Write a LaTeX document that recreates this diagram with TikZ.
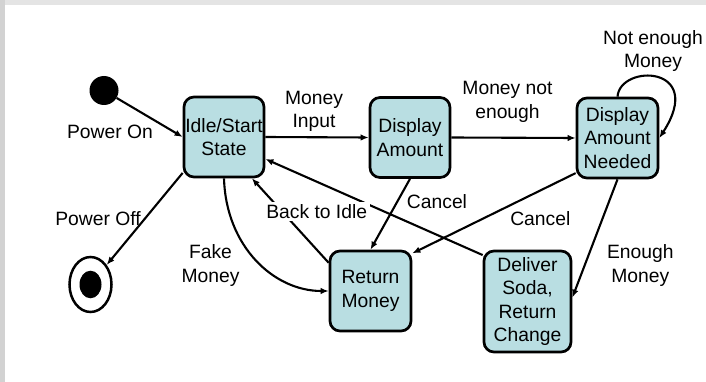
\documentclass[tikz,border=0pt]{standalone}
\usepackage{fontspec}
\setmainfont{Liberation Sans}
\usetikzlibrary{arrows.meta,shapes.geometric}
\definecolor{statefill}{HTML}{B9DEE2}
\definecolor{bandtop}{HTML}{E4E4E4}
\definecolor{bandleft}{HTML}{D2D2D2}
\tikzset{
  txt/.style={font=\fontsize{19.3}{23.5}\selectfont, align=center},
  statebox/.style={txt, draw=black, fill=statefill, line width=2.7pt,
    rounded corners=10pt, inner sep=0pt},
  trans/.style={line width=2.1pt, -{Latex[length=8pt,width=6.5pt]}},
  lbl/.style={txt, inner sep=2pt},
  lblw/.style={txt, fill=white, inner sep=2.5pt},
}
\begin{document}
\begin{tikzpicture}[x=1pt,y=-1pt]
  % canvas and frame bands
  \useasboundingbox (0,0) rectangle (706,382);
  \fill[white] (0,0) rectangle (706,382);
  \fill[bandtop] (0,0) rectangle (706,5);
  \fill[bandleft] (0,0) rectangle (5,382);

  % pseudo-states
  \node[circle, fill=black, minimum size=29pt, inner sep=0pt] (init) at (104,90.5) {};
  \node[ellipse, draw=black, line width=2.5pt, minimum width=42pt, minimum height=55pt, inner sep=0pt] (final) at (90.5,284.5) {};
  \fill[black] (final.center) ellipse [x radius=11pt, y radius=13.8pt];

  % states
  \node[statebox, minimum width=80pt, minimum height=80pt] (idle) at (224,137) {Idle/Start\\State};
  \node[statebox, minimum width=80pt, minimum height=80pt] (disp) at (410,137.5) {Display\\Amount};
  \node[statebox, minimum width=81pt, minimum height=80pt] (need) at (617.5,138) {Display\\Amount\\Needed};
  \node[statebox, minimum width=81pt, minimum height=80pt] (ret) at (370.5,291) {Return\\Money};
  \node[statebox, minimum width=87pt, minimum height=101pt] (deliv) at (527.5,301.5) {Deliver\\Soda,\\Return\\Change};

  % transitions
  \draw[trans] (init) -- (idle.west);
  \draw[trans] (idle.east) -- (disp.west);
  \draw[trans] (disp.east) -- (need.west);
  \draw[trans] (need.north) .. controls +(2.5,-33) and +(47,-73) .. (need.east);
  \draw[trans] (idle.221) -- (final);
  \draw[trans] (idle.south) .. controls +(2,68) and +(-55,0) .. (ret.west);
  \draw[trans] (ret.146) -- (idle.-56);
  \draw[trans] (deliv.134) -- (idle.-28);
  \draw[trans] (disp.south) -- (ret.north);
  \draw[trans] (need.220) -- (ret.42);
  \draw[trans] (need.south) -- (deliv.5);

  % transition labels
  \node[lbl] (lpon) at (110,132) {Power On};
  \node[lbl] (lmin) at (314,111.5) {Money\\Input};
  \node[lbl] (lmne) at (507.5,101.7) {Money not\\enough};
  \node[lbl] (lnem) at (653,50.8) {Not enough\\Money};
  \node[lbl] (lpoff) at (98,218.3) {Power Off};
  \node[lbl] (lfake) at (210.5,265.3) {Fake\\Money};
  \node[lblw] (lback) at (316.7,211.7) {Back to Idle};
  \node[lblw] (lcan1) at (437,201.7) {Cancel};
  \node[lblw] (lcan2) at (540.3,218.3) {Cancel};
  \node[lbl] (lenough) at (640.3,265.3) {Enough\\Money};
\end{tikzpicture}
\end{document}
